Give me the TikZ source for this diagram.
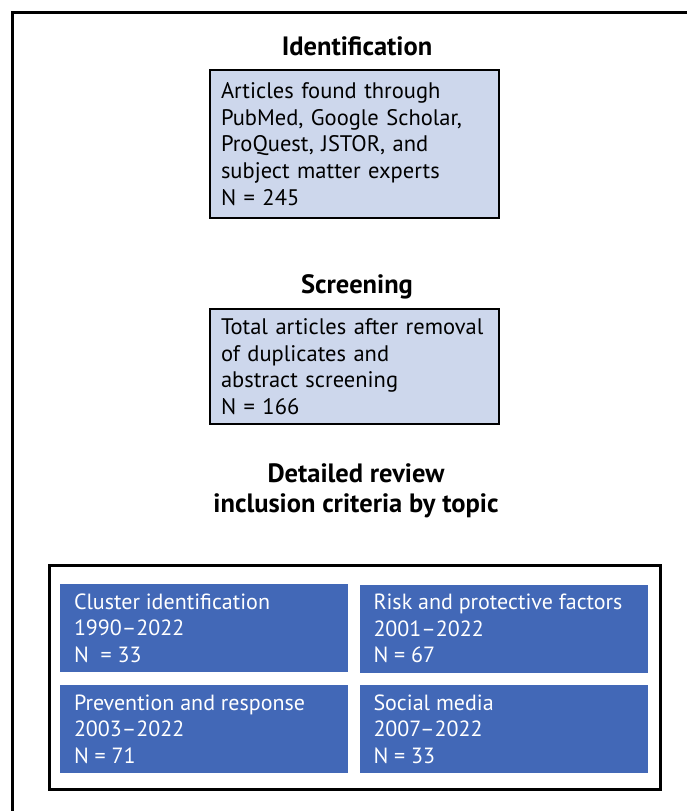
\documentclass[tikz,border=0pt]{standalone}
\usepackage{fontspec}
\setmainfont{PT Sans}
\usepackage{xcolor}
\usepackage{tikz}
\usetikzlibrary{positioning}

\definecolor{stepfill}{RGB}{205,215,236}
\definecolor{topicblue}{RGB}{66,104,183}

\tikzstyle{heading} = [font=\fontsize{26.5}{30}\selectfont\bfseries, align=center, inner sep=0pt, anchor=base]
\tikzstyle{stepbox} = [draw=black, line width=2.5pt, fill=stepfill, align=left, inner xsep=11pt, inner ysep=0pt, text width=267pt, font=\fontsize{22.5}{26.6}\selectfont]
\tikzstyle{topicbox} = [fill=topicblue, text=white, align=flush left, inner xsep=14pt, inner ysep=0pt, text width=260pt, minimum height=88pt, font=\fontsize{22}{26.6}\selectfont]

\begin{document}
\begin{tikzpicture}[x=1pt, y=-1pt]

    \useasboundingbox (0,0) rectangle (687,811); % fixes the page
    \clip (0,0) rectangle (687,811);

    % outer frame, only left and top edges are on the page
    \draw[line width=3pt] (12,830) -- (12,12) -- (700,12);

    % headings
    \node[heading] (idhead) at (357,55) {Identification};
    \node[heading] (screenhead) at (357,293) {Screening};
    \node[heading] (reviewhead) at (356,512) {Detailed review\\inclusion criteria by topic};

    % step boxes
    \node[stepbox, minimum height=148pt] (ident) at (354.5,144)
        {Articles found through\\PubMed, Google Scholar,\\ProQuest, JSTOR, and\\subject matter experts\\N = 245};
    \node[stepbox, minimum height=115pt] (screen) at (354.5,366.5)
        {Total articles after removal\\of duplicates and\\abstract screening\\N = 166};

    % frame round the topic boxes
    \draw[line width=3pt] (49,565) rectangle (660,789);

    % topic boxes
    \node[topicbox] (cluster) at (204,628)
        {Cluster identification\\1990--2022\\N \ = 33};
    \node[topicbox] (risk) at (503.5,628.5)
        {Risk and protective factors\\2001--2022\\N = 67};
    \node[topicbox] (prevent) at (204,729)
        {Prevention and response\\2003--2022\\N = 71};
    \node[topicbox] (social) at (503.5,729)
        {Social media\\2007--2022\\N = 33};

\end{tikzpicture}
\end{document}
